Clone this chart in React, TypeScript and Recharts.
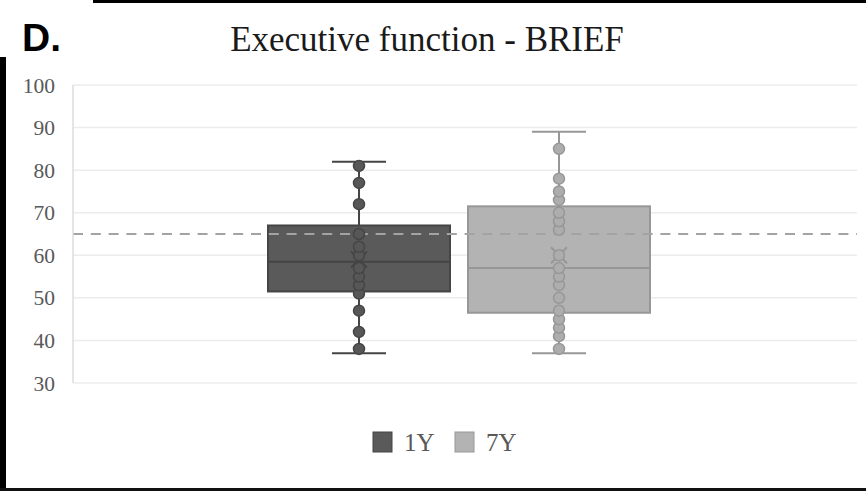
import React from 'react';
import { ComposedChart, Bar, Scatter, XAxis, YAxis, CartesianGrid, ReferenceLine } from 'recharts';

const categories = ['1Y', '7Y'];
const whiskerMin = [37, 37];
const q1 = [51.5, 46.5];
const median = [58.5, 57];
const q3 = [67, 71.5];
const whiskerMax = [82, 89];
const means = [59, 60];
const points1Y = [38, 42, 47, 51, 53, 55, 57, 60, 62, 65, 72, 77, 81];
const points7Y = [38, 41, 43, 45, 47, 50, 53, 55, 57, 60, 66, 68, 70, 73, 75, 78, 85];
const yTicks = [30, 40, 50, 60, 70, 80, 90, 100];
const cutoff = 65;

const fills = ['#5a5a5a', '#b3b3b3'];
const strokes = ['#454545', '#979797'];
const pointFills = ['#575757', '#adadad'];

const boxData = categories.map((name, i) => ({
  name,
  idx: i,
  range: [q1[i], q3[i]],
  lo: whiskerMin[i],
  hi: whiskerMax[i],
  q1: q1[i],
  q3: q3[i],
  med: median[i],
  mean: means[i],
}));

const scatter1 = points1Y.map((v) => ({ name: categories[0], v }));
const scatter2 = points7Y.map((v) => ({ name: categories[1], v }));

const BoxShape = (props: any) => {
  const { x, y, width, height, payload } = props;
  if (!payload || height == null) return null;
  const i = payload.idx;
  const ppu = height / (payload.q3 - payload.q1);
  const toY = (v: number) => y + (payload.q3 - v) * ppu;
  const cx = x + width / 2;
  const cap = 27;
  const s = strokes[i];
  const my = toY(payload.mean);
  const m = 8;
  return (
    <g>
      <line x1={cx} x2={cx} y1={toY(payload.hi)} y2={toY(payload.q3)} stroke={s} strokeWidth={2} />
      <line x1={cx} x2={cx} y1={toY(payload.q1)} y2={toY(payload.lo)} stroke={s} strokeWidth={2} />
      <line x1={cx - cap} x2={cx + cap} y1={toY(payload.hi)} y2={toY(payload.hi)} stroke={s} strokeWidth={2} />
      <line x1={cx - cap} x2={cx + cap} y1={toY(payload.lo)} y2={toY(payload.lo)} stroke={s} strokeWidth={2} />
      <rect x={x} y={y} width={width} height={height} fill={fills[i]} stroke={s} strokeWidth={2} />
      <line x1={x} x2={x + width} y1={toY(payload.med)} y2={toY(payload.med)} stroke={s} strokeWidth={2} />
      <line x1={cx - m} x2={cx + m} y1={my - m} y2={my + m} stroke={s} strokeWidth={2} />
      <line x1={cx - m} x2={cx + m} y1={my + m} y2={my - m} stroke={s} strokeWidth={2} />
    </g>
  );
};

const makeDot = (i: number) => (props: any) => {
  const { cx, cy } = props;
  if (cx == null || cy == null) return null;
  return <circle cx={cx} cy={cy} r={5.5} fill={pointFills[i]} stroke={strokes[i]} strokeWidth={1.5} />;
};

export default function App() {
  return (
    <div style={{ position: 'absolute', left: 0, top: 0, width: 866, height: 491, background: '#fff' }}>
      <svg width={866} height={491} style={{ position: 'absolute', left: 0, top: 0 }}>
        <rect x={93} y={0} width={773} height={3} fill="#000" />
        <rect x={0} y={57} width={6} height={434} fill="#000" />
        <rect x={0} y={488} width={866} height={3} fill="#111" />
        <text x={22} y={51} fontFamily="'Liberation Sans', Arial, sans-serif" fontWeight="bold" fontSize={39} fill="#000">D.</text>
        <text x={427} y={51} textAnchor="middle" fontFamily="'Liberation Serif', 'Times New Roman', serif" fontSize={35} fill="#1a1a1a">Executive function - BRIEF</text>
        <rect x={373} y={432} width={19} height={20} fill={fills[0]} stroke={strokes[0]} strokeWidth={1} />
        <text x={404} y={451} fontFamily="'Liberation Serif', 'Times New Roman', serif" fontSize={25} fill="#595959">{categories[0]}</text>
        <rect x={455} y={432} width={19} height={20} fill={fills[1]} stroke={strokes[1]} strokeWidth={1} />
        <text x={486} y={451} fontFamily="'Liberation Serif', 'Times New Roman', serif" fontSize={25} fill="#595959">{categories[1]}</text>
      </svg>
      <div style={{ position: 'absolute', left: 0, top: 0 }}>
        <ComposedChart
          width={866}
          height={491}
          data={boxData}
          margin={{ top: 85, right: 9, bottom: 108, left: 13 }}
          barCategoryGap="4.5%"
        >
          <CartesianGrid vertical={false} stroke="#ececec" strokeWidth={1.5} />
          <XAxis
            dataKey="name"
            type="category"
            allowDuplicatedCategory={false}
            hide
            padding={{ left: 186, right: 198 }}
          />
          <XAxis xAxisId="full" type="number" domain={[0, 1]} hide />
          <YAxis
            type="number"
            domain={[30, 100]}
            ticks={yTicks}
            width={60}
            axisLine={{ stroke: '#dcdcdc', strokeWidth: 1.5 }}
            tickLine={false}
            tickSize={0}
            tickMargin={18}
            tick={{ fill: '#595959', fontSize: 21.5, fontFamily: "'Liberation Serif', 'Times New Roman', serif" }}
            interval={0}
          />
          <Bar dataKey="range" shape={<BoxShape />} isAnimationActive={false} />
          <Scatter data={scatter1} dataKey="v" shape={makeDot(0)} isAnimationActive={false} />
          <Scatter data={scatter2} dataKey="v" shape={makeDot(1)} isAnimationActive={false} />
          <ReferenceLine xAxisId="full" y={cutoff} stroke="#a3a3a3" strokeWidth={2} strokeDasharray="10 7.8" />
        </ComposedChart>
      </div>
    </div>
  );
}
